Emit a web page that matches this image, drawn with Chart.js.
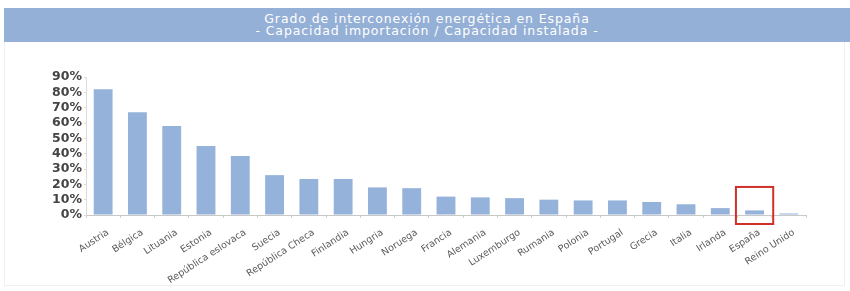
<!DOCTYPE html>
<html>
<head>
<meta charset="utf-8">
<script src="https://cdn.jsdelivr.net/npm/chart.js@4/dist/chart.umd.min.js"></script>
<style>
    body { margin: 0; background: #fff; font-family: "DejaVu Sans", sans-serif; }
    #header {
        position: absolute; left: 4px; top: 8px; width: 846px; height: 34px;
        background: #95b0d6; color: #fff; text-align: center;
        font-size: 12.5px; line-height: 12px; letter-spacing: 0.9px;
        padding-top: 5px; box-sizing: border-box;
    }
    #panel {
        position: absolute; left: 4px; top: 42px; width: 841px; height: 244px;
        border: 1px solid #eef0f3; border-top: none; box-sizing: border-box;
    }
</style>
</head>
<body>
<div id="header">Grado de interconexión energética en España<br>- Capacidad importación / Capacidad instalada -</div>
<div id="panel"><canvas id="chart" width="841" height="244"></canvas></div>
<script>
const countries = ['Austria', 'Bélgica', 'Lituania', 'Estonia', 'República eslovaca', 'Suecia',
    'República Checa', 'Finlandia', 'Hungria', 'Noruega', 'Francia', 'Alemania', 'Luxemburgo',
    'Rumania', 'Polonia', 'Portugal', 'Grecia', 'Italia', 'Irlanda', 'España', 'Reino Unido'];
const ratios = [82, 67, 58, 45, 38.5, 26, 23.5, 23.5, 18, 17.5, 12, 11.5, 11, 10, 9.5, 9.5, 8.5, 7, 4.5, 3, 1];
const yTicks = [0, 10, 20, 30, 40, 50, 60, 70, 80, 90];
const highlight = 'España';

// red box around the highlighted category
const highlightBox = {
    id: 'highlightBox',
    afterDatasetsDraw(chart) {
        const x = chart.scales.x, y = chart.scales.y;
        const i = countries.indexOf(highlight);
        const cx = x.getPixelForValue(i);
        const half = x.width / countries.length / 2 + 1.5;
        const top = y.getPixelForValue(18.3);
        const bottom = y.getPixelForValue(0) + 9;
        const c = chart.ctx;
        c.save();
        c.strokeStyle = '#d0302a';
        c.lineWidth = 2;
        c.strokeRect(cx - half, top, half * 2, bottom - top);
        c.restore();
    }
};

new Chart(document.getElementById('chart'), {
    type: 'bar',
    data: {
        labels: countries,
        datasets: [{
            data: ratios,
            backgroundColor: '#95b3da',
            barPercentage: 0.55,
            categoryPercentage: 1
        }]
    },
    options: {
        responsive: false,
        animation: false,
        layout: { padding: { top: 35, right: 40, left: 0, bottom: 0 } },
        plugins: { legend: { display: false }, tooltip: { enabled: false } },
        scales: {
            x: {
                grid: { display: true, drawOnChartArea: false, offset: true, tickLength: 3, color: '#e8c8a8' },
                border: { color: '#c8c8c8' },
                ticks: {
                    autoSkip: false, minRotation: 33, maxRotation: 33, padding: 9, labelOffset: 5,
                    color: '#5a5a5a', font: { family: 'DejaVu Sans', size: 9.5 }
                },
                afterFit(scale) { scale.height = 71; }
            },
            y: {
                min: 0, max: 90,
                afterBuildTicks(scale) { scale.ticks = yTicks.map(v => ({ value: v })); },
                grid: { display: true, drawOnChartArea: false, tickLength: 2, color: '#e8d8c8' },
                border: { color: '#dcdcdc' },
                ticks: {
                    autoSkip: false, color: '#444', padding: 2,
                    font: { family: 'DejaVu Sans', size: 12.5, weight: 'bold' },
                    callback: v => v + '%'
                },
                afterFit(scale) { scale.width = 81; }
            }
        }
    },
    plugins: [highlightBox]
});
</script>
</body>
</html>
